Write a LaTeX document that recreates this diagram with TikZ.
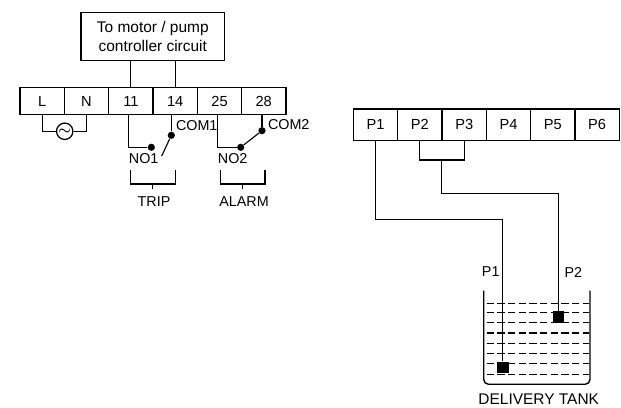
\documentclass[tikz,border=0pt]{standalone}
\usepackage{fontspec}
\setmainfont{Liberation Sans}
\usepackage{tikz}

\begin{document}
\begin{tikzpicture}
    \tikzset{cell/.style={draw,rectangle,line width=0.9pt,outer sep=0pt,inner sep=0pt,minimum width=1.108cm,minimum height=0.685cm,font=\fontsize{10.4}{13}\selectfont},
             pcell/.style={cell,minimum height=0.79cm},
             lbl/.style={inner sep=0pt,font=\fontsize{11}{13}\selectfont},
             pin/.style={inner sep=0pt,font=\fontsize{10.2}{13}\selectfont},
             contact/.style={circle,fill=black,inner sep=0pt,minimum size=0.18cm},
             sensor/.style={rectangle,fill=black,inner sep=0pt,minimum size=0.29cm}}
    \tikzstyle{wire}=[line width=0.8pt]
    \tikzstyle{liquid}=[line width=1pt,dash pattern=on 0.18cm off 0.087cm]
    \useasboundingbox (0,0) rectangle (15.525,10.175);

    \node[cell,font=\fontsize{11}{13}\selectfont,minimum width=3.59cm,minimum height=1.21cm,align=center] (CTRL) at (3.82,9.26) {To motor / pump\\controller circuit};

    \node[cell] (TL) at (1.054,7.65) {L};
    \node[cell] (TN) at (2.163,7.65) {N};
    \node[cell] (T11) at (3.271,7.65) {11};
    \node[cell] (T14) at (4.38,7.65) {14};
    \node[cell] (T25) at (5.488,7.65) {25};
    \node[cell] (T28) at (6.593,7.65) {28};
    \draw[wire] (CTRL.south -| T11) -- (T11.north);
    \draw[wire] (CTRL.south -| T14) -- (T14.north);

    \node[draw,circle,line width=0.9pt,inner sep=0pt,minimum size=0.41cm,font=\boldmath] (AC) at (1.618,6.893) {$\sim$};
    \draw[wire] (TL.south) |- (AC.west);
    \draw[wire] (AC.east) -| (TN.south);

    \node[contact] (NOA) at (3.783,6.493) {};
    \node[contact] (COMA) at (4.283,6.793) {};
    \coordinate (ARMA) at (4.043,6.275);
    \draw[wire] ([xshift=-0.05cm]T11.south) |- (NOA);
    \draw[wire] ([xshift=-0.097cm]T14.south) -- (COMA);
    \draw[wire] (COMA) -- (ARMA);
    \node[pin,anchor=west] (COMAL) at (4.393,7.033) {COM1};
    \node[pin] (NOAL) at (3.593,6.2) {NO1};

    \node[contact] (NOB) at (6.018,6.493) {};
    \node[contact] (COMB) at (6.55,6.908) {};
    \draw[wire] ([xshift=-0.045cm]T25.south) |- (NOB);
    \draw[wire] ([xshift=-0.043cm]T28.south) -- (COMB);
    \draw[wire] (COMB) -- (NOB);
    \node[pin,anchor=west] (COMBL) at (6.693,7.05) {COM2};
    \node[pin] (NOBL) at (5.818,6.2) {NO2};

    \draw[wire] (3.258,5.925)--(3.258,5.575)--(4.393,5.575)--(4.393,5.925);
    \draw[wire] (3.818,5.575)--(3.818,5.45);
    \node[pin] (TRIP) at (3.85,5.133) {TRIP};
    \draw[wire] (5.518,5.925)--(5.518,5.575)--(6.625,5.575)--(6.625,5.925);
    \draw[wire] (6.068,5.575)--(6.068,5.45);
    \node[pin] (ALARM) at (6.1,5.133) {ALARM};

    \node[pcell] (P1) at (9.388,7.054) {P1};
    \node[pcell] (P2) at (10.496,7.054) {P2};
    \node[pcell] (P3) at (11.605,7.054) {P3};
    \node[pcell] (P4) at (12.713,7.054) {P4};
    \node[pcell] (P5) at (13.821,7.054) {P5};
    \node[pcell] (P6) at (14.929,7.054) {P6};

    \draw[liquid] (12.168,2.593)--(14.73,2.593);
    \draw[liquid] (12.168,2.358)--(14.73,2.358);
    \draw[liquid] (12.168,2.108)--(14.73,2.108);
    \draw[liquid] (12.168,1.85)--(14.73,1.85);
    \draw[liquid] (12.168,1.593)--(14.73,1.593);
    \draw[liquid] (12.168,1.333)--(14.73,1.333);
    \draw[liquid] (12.168,1.083)--(14.73,1.083);
    \draw[liquid] (12.168,0.818)--(14.73,0.818);
    \draw[line width=1pt,rounded corners=0.12cm] (12.093,2.908)--(12.093,0.568)--(14.75,0.568)--(14.75,2.908);

    \node[sensor] (SENSA) at (12.568,0.988) {};
    \node[sensor] (SENSB) at (13.963,2.245) {};
    \coordinate (BENDA) at (9.388,4.693);
    \coordinate (BRG) at (11.043,6.175);
    \coordinate (BENDB) at (11.043,5.343);
    \draw[wire] (P1.south) -- (BENDA) -| (SENSA);
    \draw[wire] (P2.south) |- (BRG) -| (P3.south);
    \draw[wire] (BRG) -- (BENDB) -| (SENSB);

    \node[pin] (LP1) at (12.268,3.375) {P1};
    \node[pin] (LP2) at (14.333,3.363) {P2};
    \node[lbl] (TANK) at (13.468,0.2) {DELIVERY TANK};
\end{tikzpicture}
\end{document}
